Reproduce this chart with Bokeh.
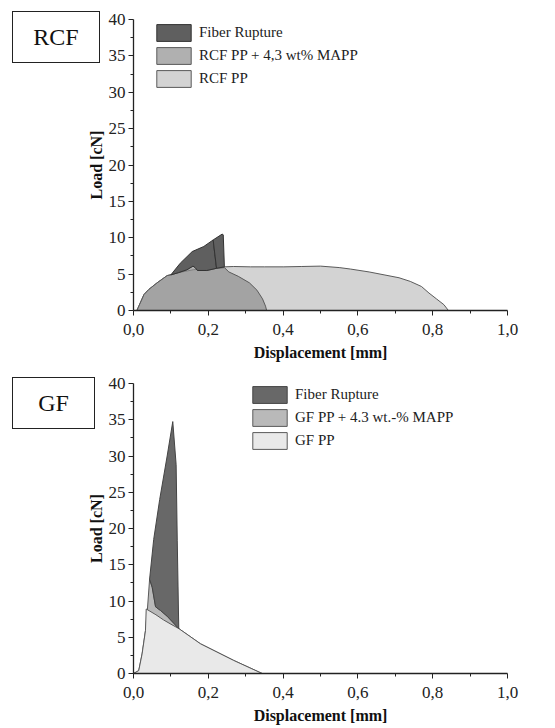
from bokeh.plotting import figure
from bokeh.layouts import column
from bokeh.models import Legend, LegendItem, Div, FixedTicker, Range1d
from bokeh.embed import file_html
from bokeh.resources import INLINE

# ---------------- data ----------------
x_ticks = [0.0, 0.2, 0.4, 0.6, 0.8, 1.0]
x_tick_labels = ["0,0", "0,2", "0,4", "0,6", "0,8", "1,0"]
x_minor = [0.1, 0.3, 0.5, 0.7, 0.9]
y_ticks = [0, 5, 10, 15, 20, 25, 30, 35, 40]
y_minor = [2.5, 7.5, 12.5, 17.5, 22.5, 27.5, 32.5, 37.5]

# RCF panel
rcf_pp_x = [0.009, 0.028, 0.041, 0.063, 0.09, 0.12, 0.16, 0.2, 0.243, 0.268, 0.313, 0.35, 0.402,
            0.45, 0.5, 0.55, 0.58, 0.63, 0.67, 0.71, 0.74, 0.77, 0.79, 0.81, 0.83, 0.842]
rcf_pp_y = [0.0, 2.2, 2.9, 3.8, 4.8, 5.2, 5.6, 5.8, 6.0, 6.05, 6.0, 6.0, 6.0,
            6.05, 6.1, 5.9, 5.7, 5.3, 4.9, 4.5, 4.0, 3.3, 2.4, 1.6, 0.8, 0.0]
rcf_mapp_x = [0.009, 0.028, 0.041, 0.063, 0.09, 0.1, 0.12, 0.143, 0.159, 0.165, 0.171, 0.196,
              0.222, 0.243, 0.255, 0.28, 0.31, 0.33, 0.345, 0.353, 0.356]
rcf_mapp_y = [0.0, 2.2, 2.9, 3.8, 4.8, 4.9, 5.2, 5.6, 6.1, 5.9, 5.5, 5.5,
              5.8, 5.9, 5.3, 4.7, 3.8, 2.8, 1.6, 0.6, 0.0]
rcf_fr_x = [[0.1, 0.125, 0.157, 0.188, 0.213, 0.222, 0.196, 0.171, 0.165, 0.159, 0.143, 0.12],
            [0.213, 0.237, 0.240, 0.243, 0.222]]
rcf_fr_y = [[4.9, 6.5, 8.1, 8.8, 9.7, 5.8, 5.5, 5.5, 5.9, 6.1, 5.6, 5.2],
            [9.7, 10.5, 10.4, 6.0, 5.8]]

# GF panel
gf_pp_x = [0.0, 0.014, 0.023, 0.032, 0.034, 0.06, 0.08, 0.1, 0.121, 0.179, 0.268, 0.344]
gf_pp_y = [0.0, 0.4, 2.7, 5.9, 8.9, 8.1, 7.4, 6.8, 6.2, 4.1, 1.8, 0.0]
gf_mapp_x = [0.0, 0.014, 0.023, 0.032, 0.037, 0.043, 0.05, 0.059, 0.072, 0.09, 0.121, 0.179, 0.268, 0.344]
gf_mapp_y = [0.0, 0.4, 2.7, 5.9, 8.7, 13.0, 11.9, 9.2, 8.7, 7.9, 6.2, 4.1, 1.8, 0.0]
gf_fr_x = [[0.043, 0.054, 0.07, 0.09, 0.105, 0.114, 0.117, 0.121, 0.09, 0.072, 0.059, 0.05]]
gf_fr_y = [[13.0, 18.5, 24.0, 30.0, 34.75, 28.8, 18.3, 6.2, 7.9, 8.7, 9.2, 11.9]]

FONT = "Liberation Serif"
FRAME_W = 374
BOTTOM = 52


def make_fig(top_border, frame_h):
    p = figure(frame_width=FRAME_W, frame_height=frame_h,
               x_range=Range1d(0, 1.0), y_range=Range1d(0, 40),
               output_backend="svg", toolbar_location=None,
               min_border_left=133, min_border_right=40,
               min_border_top=top_border, min_border_bottom=BOTTOM)
    p.xgrid.visible = False
    p.ygrid.visible = False
    p.outline_line_color = None
    p.background_fill_color = "white"
    p.border_fill_color = "white"
    p.xaxis.ticker = FixedTicker(ticks=x_ticks, minor_ticks=x_minor)
    p.xaxis.major_label_overrides = {t: l for t, l in zip(x_ticks, x_tick_labels)}
    p.yaxis.ticker = FixedTicker(ticks=y_ticks, minor_ticks=y_minor)
    p.xaxis.axis_label = "Displacement [mm]"
    p.yaxis.axis_label = "Load [cN]"
    for ax in (p.xaxis[0], p.yaxis[0]):
        ax.axis_line_color = "#222222"
        ax.axis_line_width = 1.3
        ax.major_tick_line_color = "#222222"
        ax.minor_tick_line_color = "#222222"
        ax.major_tick_out = 5
        ax.major_tick_in = 0
        ax.minor_tick_out = 3
        ax.minor_tick_in = 0
        ax.major_label_text_font = FONT
        ax.major_label_text_font_size = "17px"
        ax.major_label_text_color = "#222222"
        ax.axis_label_text_font = FONT
        ax.axis_label_text_font_size = "16px"
        ax.axis_label_text_font_style = "bold"
        ax.axis_label_text_color = "#111111"
    p.xaxis.major_label_standoff = 8
    p.xaxis.axis_label_standoff = 6
    p.yaxis.major_label_standoff = 3
    p.yaxis.axis_label_standoff = 1
    return p


def style_legend(p, items, loc):
    leg = Legend(items=items, location=loc, orientation="vertical")
    leg.border_line_color = None
    leg.background_fill_alpha = 0
    leg.padding = 0
    leg.margin = 0
    leg.spacing = 2
    leg.glyph_width = 43
    leg.glyph_height = 21
    leg.label_height = 21
    leg.label_standoff = 4
    leg.label_text_font = FONT
    leg.label_text_font_size = "15px"
    leg.label_text_color = "#222222"
    leg.label_text_baseline = "middle"
    p.add_layout(leg, "center")


def box_div(text, w, h, fig_h, top, left):
    # placed after its figure, pulled up over the figure's left margin; net layout height 0
    return Div(text=text, width=w, height=h,
               margin=(-(fig_h - top), 0, fig_h - top - h, left),
               styles={"border": "1px solid #222222", "box-sizing": "border-box",
                       "background-color": "white", "font-family": FONT,
                       "font-size": "24px", "color": "#111111", "text-align": "center",
                       "line-height": f"{h - 2}px", "z-index": "10"})


# ---------------- RCF ----------------
H1_FRAME, H1_TOP = 291, 19
H1 = H1_TOP + H1_FRAME + BOTTOM
p1 = make_fig(H1_TOP, H1_FRAME)
r_pp = p1.patch(rcf_pp_x, rcf_pp_y, fill_color="#d3d3d3", line_color="#5a5a5a", line_width=1)
r_mapp = p1.patch(rcf_mapp_x, rcf_mapp_y, fill_color="#8e8e8e", fill_alpha=0.7,
                  line_color="#5a5a5a", line_width=1)
r_fr = p1.patches(xs=rcf_fr_x, ys=rcf_fr_y, fill_color="#5f5f5f", line_color="#333333", line_width=1)
style_legend(p1, [LegendItem(label="Fiber Rupture", renderers=[r_fr]),
                  LegendItem(label="RCF PP + 4,3 wt% MAPP", renderers=[r_mapp]),
                  LegendItem(label="RCF PP", renderers=[r_pp])], (19, H1_FRAME - 3 - 67))
d1 = box_div("RCF", 88, 52, H1, 10, 12)

# ---------------- GF ----------------
H2_FRAME, H2_TOP = 290, 20
H2 = H2_TOP + H2_FRAME + BOTTOM
p2 = make_fig(H2_TOP, H2_FRAME)
g_mapp = p2.patch(gf_mapp_x, gf_mapp_y, fill_color="#b9b9b9", line_color="#5a5a5a", line_width=1)
g_pp = p2.patch(gf_pp_x, gf_pp_y, fill_color="#e9e9e9", line_color="#5a5a5a", line_width=1)
g_fr = p2.patches(xs=gf_fr_x, ys=gf_fr_y, fill_color="#686868", line_color="#444444", line_width=1)
style_legend(p2, [LegendItem(label="Fiber Rupture", renderers=[g_fr]),
                  LegendItem(label="GF PP + 4.3 wt.-% MAPP", renderers=[g_mapp]),
                  LegendItem(label="GF PP", renderers=[g_pp])], (115, H2_FRAME - 1 - 67))
d2 = box_div("GF", 83, 52, H2, 13, 12)

layout = column(p1, d1, p2, d2, spacing=0)
open("out.html", "w").write(file_html(layout, INLINE))
